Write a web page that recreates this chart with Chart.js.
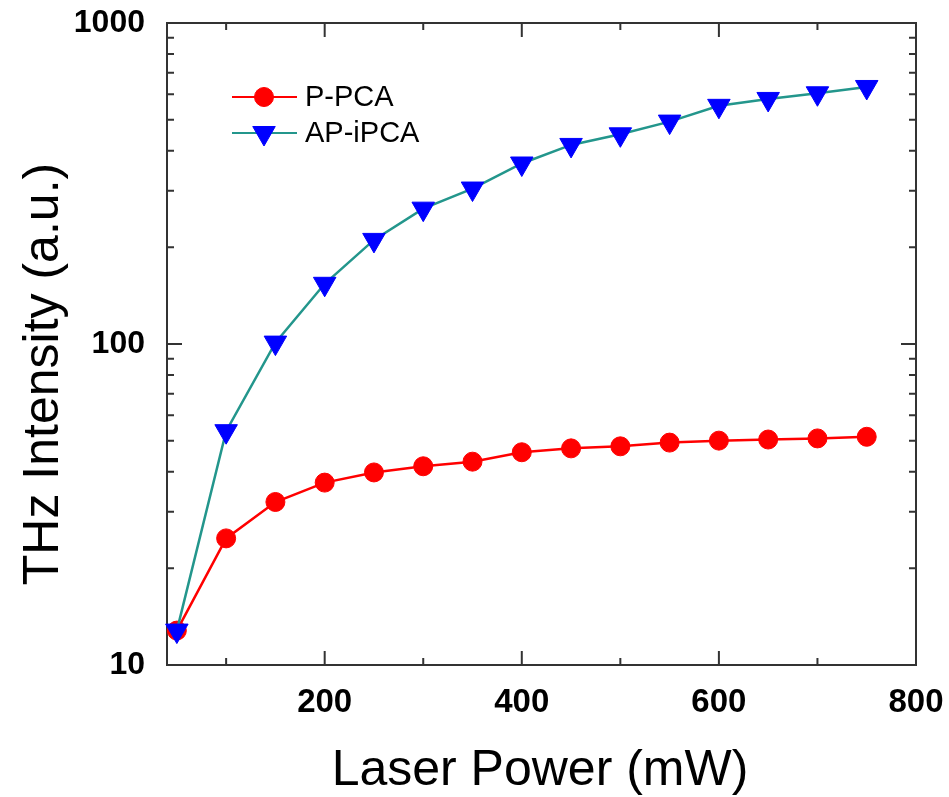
<!DOCTYPE html>
<html>
<head>
<meta charset="utf-8">
<script src="https://cdn.jsdelivr.net/npm/chart.js@4.4.0/dist/chart.umd.min.js"></script>
<style>
  html, body { margin: 0; padding: 0; background: #fff; }
</style>
</head>
<body>
<canvas id="thzChart" width="949" height="797"></canvas>
<script>
// data
const laserPower = [50, 100, 150, 200, 250, 300, 350, 400, 450, 500, 550, 600, 650, 700, 750];
const pPCA   = [12.8, 24.8, 32.2, 37.0, 39.8, 41.6, 43.0, 46.0, 47.3, 48.0, 49.3, 50.0, 50.4, 50.8, 51.4];
const apIPCA = [12.8, 53.5, 101, 154, 211, 264, 305, 365, 417, 450, 493, 552, 580, 604, 632];

const xTickLabels = [200, 400, 600, 800];
const xMinorTicks = [100, 300, 500, 700];
const yTickLabels = [10, 100, 1000];
const yMinorTicks = [20, 30, 40, 50, 60, 70, 80, 90, 200, 300, 400, 500, 600, 700, 800, 900];

const FONT = '"Liberation Sans", Arial, sans-serif';

// frame box with inward ticks on all four sides
const frameTicks = {
    id: 'frameTicks',
    beforeDatasetsDraw(chart) {
        const ctx = chart.ctx;
        const a = chart.chartArea;
        const xs = chart.scales.x, ys = chart.scales.y;
        ctx.save();
        ctx.strokeStyle = '#333';
        ctx.lineWidth = 2;
        ctx.strokeRect(a.left, a.top, a.right - a.left, a.bottom - a.top);
        ctx.beginPath();
        const xt = (v, len) => {
            const p = xs.getPixelForValue(v);
            ctx.moveTo(p, a.bottom); ctx.lineTo(p, a.bottom - len);
            ctx.moveTo(p, a.top); ctx.lineTo(p, a.top + len);
        };
        const yt = (v, len) => {
            const p = ys.getPixelForValue(v);
            ctx.moveTo(a.left, p); ctx.lineTo(a.left + len, p);
            ctx.moveTo(a.right, p); ctx.lineTo(a.right - len, p);
        };
        xTickLabels.forEach(v => xt(v, 14));
        xMinorTicks.forEach(v => xt(v, 7));
        yTickLabels.forEach(v => yt(v, 15));
        yMinorTicks.forEach(v => yt(v, 7));
        ctx.stroke();
        ctx.restore();
    },
    afterDraw(chart) {
        const ctx = chart.ctx;
        ctx.save();
        ctx.fillStyle = '#000';
        ctx.font = '50px ' + FONT;
        ctx.textAlign = 'center';
        ctx.textBaseline = 'alphabetic';
        ctx.fillText('Laser Power (mW)', 540, 785);
        ctx.translate(58, 374);
        ctx.rotate(-Math.PI / 2);
        ctx.fillText('THz Intensity (a.u.)', 0, 0);
        ctx.restore();

        // legend
        ctx.save();
        const rows = [{ ds: chart.data.datasets[0], y: 97 }, { ds: chart.data.datasets[1], y: 133 }];
        rows.forEach(r => {
            ctx.strokeStyle = r.ds.borderColor;
            ctx.lineWidth = 2;
            ctx.beginPath();
            ctx.moveTo(232, r.y); ctx.lineTo(297, r.y);
            ctx.stroke();
            ctx.fillStyle = r.ds.pointBackgroundColor;
            ctx.strokeStyle = r.ds.pointBorderColor;
            ctx.lineWidth = 1;
            Chart.helpers.drawPoint(ctx, {
                pointStyle: r.ds.pointStyle,
                rotation: r.ds.pointRotation || 0,
                radius: r.ds.pointRadius,
                borderWidth: 1
            }, 264, r.y);
            ctx.fillStyle = '#000';
            ctx.font = '29px ' + FONT;
            ctx.textAlign = 'left';
            ctx.textBaseline = 'middle';
            ctx.fillText(r.ds.label, 305, r.y + 1);
        });
        ctx.restore();
    }
};

new Chart(document.getElementById('thzChart').getContext('2d'), {
    type: 'line',
    data: {
        datasets: [{
            label: 'P-PCA',
            data: laserPower.map((p, i) => ({ x: p, y: pPCA[i] })),
            borderColor: '#ff0000',
            borderWidth: 2.5,
            pointStyle: 'circle',
            pointRadius: 9.5,
            pointBackgroundColor: '#ff0000',
            pointBorderColor: '#ff0000',
            pointBorderWidth: 1,
            tension: 0,
            order: 2,
            clip: false
        }, {
            label: 'AP-iPCA',
            data: laserPower.map((p, i) => ({ x: p, y: apIPCA[i] })),
            borderColor: '#23968c',
            borderWidth: 2.5,
            pointStyle: 'triangle',
            pointRotation: 180,
            pointRadius: 13,
            pointBackgroundColor: '#0000ff',
            pointBorderColor: '#0000ff',
            pointBorderWidth: 1,
            tension: 0,
            order: 1,
            clip: false
        }]
    },
    options: {
        responsive: false,
        animation: false,
        devicePixelRatio: 1,
        layout: { padding: { top: 23, right: 33, left: 0, bottom: 0 } },
        plugins: { legend: { display: false }, tooltip: { enabled: false } },
        scales: {
            x: {
                type: 'linear',
                min: 40,
                max: 800,
                offset: false,
                grid: { display: false, drawTicks: false },
                border: { display: false },
                afterBuildTicks: s => { s.ticks = xTickLabels.map(v => ({ value: v })); },
                afterFit: s => { s.height = 132; s.paddingLeft = 0; s.paddingRight = 0; },
                ticks: {
                    autoSkip: false,
                    maxRotation: 0,
                    padding: 18,
                    color: '#000',
                    font: { family: FONT, size: 33, weight: 'bold' },
                    callback: v => String(v)
                }
            },
            y: {
                type: 'logarithmic',
                min: 10,
                max: 1000,
                grid: { display: false, drawTicks: false },
                border: { display: false },
                afterBuildTicks: s => { s.ticks = yTickLabels.map(v => ({ value: v, major: true })); },
                afterFit: s => { s.width = 167; s.paddingTop = 0; s.paddingBottom = 0; },
                ticks: {
                    autoSkip: false,
                    padding: 22,
                    color: '#000',
                    font: { family: FONT, size: 32, weight: 'bold' },
                    callback: v => String(v)
                }
            }
        }
    },
    plugins: [frameTicks]
});
</script>
</body>
</html>
